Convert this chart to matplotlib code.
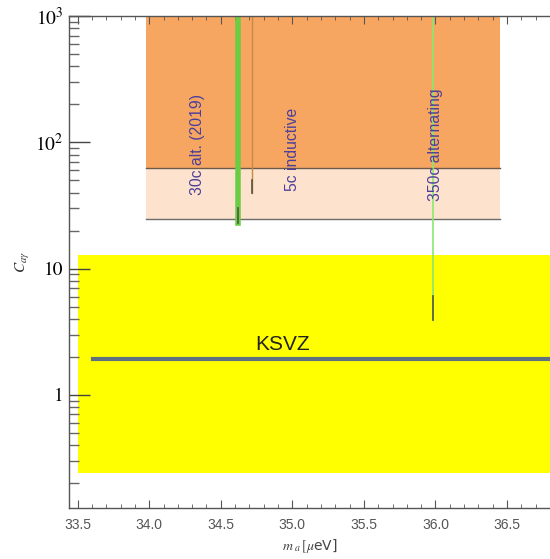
import matplotlib
matplotlib.use('Agg')
import matplotlib.pyplot as plt
from matplotlib.ticker import FixedLocator, MultipleLocator, NullFormatter

plt.rcParams['mathtext.fontset'] = 'stix'

# excluded region (mass range, coupling range)
excl_mass = [33.975, 36.45]
excl_dark = [63.0, 1000.0]
excl_light = [24.5, 63.0]

# yellow model band
band_mass = [33.5, 36.8]
band_c = [0.24, 12.9]

# KSVZ line
ksvz_mass = [33.61, 36.8]
ksvz_c = 1.92

# individual runs: name, mass, lower limit of line, marker range
runs = ['30c alt. (2019)', '5c inductive', '350c alternating']
run_mass = [34.62, 34.72, 35.98]
run_low = [23.0, 40.0, 3.9]
run_mark = [(23.0, 30.0), (40.0, 50.0), (3.9, 6.1)]
label_x = [34.335, 35.0, 36.0]
label_y = [38.0, 41.0, 34.0]

fig = plt.figure(figsize=(5.5, 5.59), dpi=100)
ax = fig.add_axes([0.1255, 0.0912, 0.8745, 0.8802])
ax.set_yscale('log')
ax.set_xlim(33.44, 36.8)
ax.set_ylim(0.127, 1000)

ax.fill_between(band_mass, band_c[0], band_c[1], color='#ffff00', lw=0, zorder=1)
ax.fill_between(excl_mass, excl_dark[0], excl_dark[1], color='#f7a662', lw=0, zorder=1)
ax.fill_between(excl_mass, excl_light[0], excl_light[1], color='#fde3cd', lw=0, zorder=1)
ax.plot(excl_mass, [excl_light[1]] * 2, color='#6b5a4a', lw=1, zorder=2)
ax.plot(excl_mass, [excl_light[0]] * 2, color='#6b6b6b', lw=1, zorder=2)

ax.plot(ksvz_mass, [ksvz_c] * 2, color='#5f7080', lw=3, zorder=3)
ax.text(34.74, ksvz_c * 1.1, 'KSVZ', fontsize=15, color='#222222',
        family='Liberation Sans', ha='left', va='bottom', zorder=4)

widths = [4, 1, 1.2]
colors = ['#6ccc44', '#c88a40', '#8ae870']
for m, lo, mk, w, c in zip(run_mass, run_low, run_mark, widths, colors):
    ax.plot([m, m], [lo, 1000], color=c, lw=w, zorder=3)
    ax.plot([m, m], mk, color='#555544', lw=1.2, zorder=4)

for name, lx, ly in zip(runs, label_x, label_y):
    ax.text(lx, ly, name, rotation=90, fontsize=11.3, color='#4a3f9a',
            family='Liberation Sans', ha='center', va='bottom', zorder=5)

# axes frame
ax.spines['right'].set_visible(False)
for s in ['left', 'bottom', 'top']:
    ax.spines[s].set_color('#555555')
    ax.spines[s].set_linewidth(1)
    ax.spines[s].set_zorder(6)

ax.yaxis.set_major_locator(FixedLocator([1, 10, 100, 1000]))
ax.set_yticklabels(['1', '10', r'$10^2$', r'$10^3$'])
ax.yaxis.set_minor_formatter(NullFormatter())
ax.tick_params(axis='y', which='major', direction='in', length=15, width=1,
               color='#444444', labelsize=14, pad=4)
ax.tick_params(axis='y', which='minor', direction='in', length=7, width=1,
               color='#666666')
for t in ax.get_yticklabels():
    t.set_family('STIXGeneral')

ax.xaxis.set_major_locator(MultipleLocator(0.5))
ax.xaxis.set_minor_locator(MultipleLocator(0.1))
ax.xaxis.set_major_formatter(plt.FormatStrFormatter('%.1f'))
ax.tick_params(axis='x', which='both', direction='in', top=True,
               color='#555555', labelsize=10, labelcolor='#555555', pad=7)
ax.tick_params(axis='x', which='major', length=6)
ax.tick_params(axis='x', which='minor', length=3)
for t in ax.get_xticklabels():
    t.set_family('Liberation Sans')

ax.set_xlabel(r'$m_{\ a}\,[\mu$eV]', fontsize=10, color='#444444', labelpad=4)
ax.set_ylabel(r'$C_{a\gamma}$', fontsize=11, color='#333333', labelpad=2)

fig.savefig('out.png', dpi=100)
